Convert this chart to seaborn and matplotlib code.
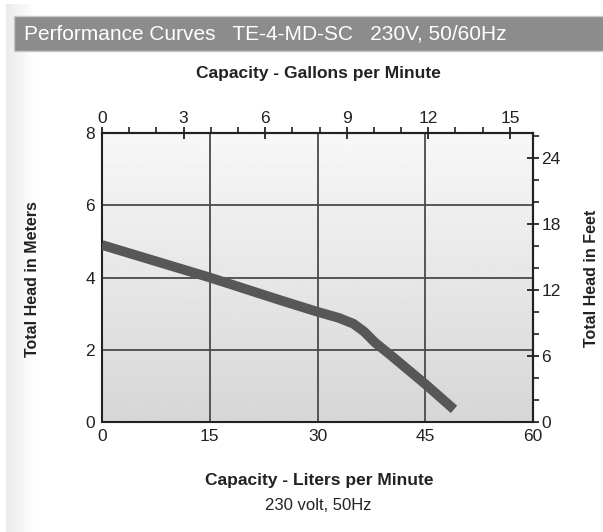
import numpy as np
import pandas as pd
import matplotlib
matplotlib.use("Agg")
import matplotlib.pyplot as plt
from matplotlib.ticker import MultipleLocator
from matplotlib.patches import Rectangle
import seaborn as sns

# curve (liters per minute vs meters of head)
flow_lpm = [0, 5, 10, 15, 20, 25, 30, 33, 35, 36.5, 38, 40, 45, 49]
head_m = [4.9, 4.6, 4.3, 4.0, 3.68, 3.36, 3.05, 2.88, 2.72, 2.5, 2.2, 1.88, 1.05, 0.35]

title_text = "Performance Curves   TE-4-MD-SC   230V, 50/60Hz"
LPM_PER_GPM = 3.78541
FT_PER_M = 3.28084

sns.set_style("white")
plt.rcParams['font.family'] = ['Liberation Sans', 'DejaVu Sans']

df = pd.DataFrame({"lpm": flow_lpm, "m": head_m})

fig = plt.figure(figsize=(6.03, 5.32), dpi=100)

# faint shading on the left page edge
bg = fig.add_axes([6 / 603, 0, 30 / 603, 1 - 4 / 532], zorder=-5)
edge = np.linspace(0.92, 1.0, 64).reshape(1, -1)
bg.imshow(edge, extent=[0, 1, 0, 1], aspect='auto', cmap='gray', vmin=0, vmax=1)
bg.axis('off')

ax = fig.add_axes([102 / 603, 1 - 422 / 532, 431 / 603, 289 / 532])

# soft vertical gradient behind the plot
grad = np.linspace(0.97, 0.84, 256).reshape(-1, 1)
ax.imshow(grad, extent=[0, 60, 0, 8], origin='upper', aspect='auto', cmap='gray',
          vmin=0, vmax=1, zorder=0)

for v in [15, 30, 45]:
    ax.axvline(v, color='#4a4a4a', lw=1.3, zorder=1)
for h in [2, 4, 6]:
    ax.axhline(h, color='#4a4a4a', lw=1.3, zorder=1)

sns.lineplot(data=df, x="lpm", y="m", ax=ax, color='#575757', lw=7,
             solid_capstyle='butt', zorder=3)

ax.set_xlim(0, 60)
ax.set_ylim(0, 8)
ax.set_xlabel("")
ax.set_ylabel("")
ax.xaxis.set_major_locator(MultipleLocator(15))
ax.xaxis.set_minor_locator(MultipleLocator(3))
ax.yaxis.set_major_locator(MultipleLocator(2))
ax.yaxis.set_minor_locator(MultipleLocator(0.5))
ax.tick_params(which='major', length=8, width=1.3, direction='inout',
               labelsize=12.5, color='#222222', labelcolor='#222222', pad=1)
ax.tick_params(which='minor', length=4, width=1.2, direction='out', color='#222222')
for s in ax.spines.values():
    s.set_color('#222222')
    s.set_linewidth(1.5)

top = ax.secondary_xaxis('top', functions=(lambda x: x / LPM_PER_GPM,
                                            lambda x: x * LPM_PER_GPM))
top.xaxis.set_major_locator(MultipleLocator(3))
top.xaxis.set_minor_locator(MultipleLocator(1))
top.tick_params(which='major', length=8, width=1.3, direction='inout',
                labelsize=12.5, color='#222222', labelcolor='#222222', pad=1)
top.tick_params(which='minor', length=4, width=1.2, direction='out', color='#222222')
top.spines['top'].set_linewidth(1.5)

right = ax.secondary_yaxis('right', functions=(lambda y: y * FT_PER_M,
                                                lambda y: y / FT_PER_M))
right.yaxis.set_major_locator(MultipleLocator(6))
right.yaxis.set_minor_locator(MultipleLocator(2))
right.tick_params(which='major', length=8, width=1.3, direction='inout',
                  labelsize=12.5, color='#222222', labelcolor='#222222', pad=2)
right.tick_params(which='minor', length=4, width=1.2, direction='out', color='#222222')
right.spines['right'].set_linewidth(1.5)

# labels
fig.text(318 / 603, 1 - 73 / 532, "Capacity - Gallons per Minute", ha='center',
         va='center', fontsize=12.5, fontweight='bold', color='#222222')
fig.text(319 / 603, 1 - 480 / 532, "Capacity - Liters per Minute", ha='center',
         va='center', fontsize=12.5, fontweight='bold', color='#222222')
fig.text(318 / 603, 1 - 506 / 532, "230 volt, 50Hz", ha='center',
         va='center', fontsize=12, color='#222222')
fig.text(33 / 603, 1 - 279 / 532, "Total Head in Meters", ha='center',
         va='center', rotation=90, fontsize=11.5, fontweight='bold', color='#222222')
fig.text(592 / 603, 1 - 278 / 532, "Total Head in Feet", ha='center',
         va='center', rotation=90, fontsize=11.5, fontweight='bold', color='#222222')

# title banner
fig.patches.append(Rectangle((14 / 603, 1 - 51 / 532), 1, 35 / 532,
                             transform=fig.transFigure, facecolor='#8c8c8c',
                             edgecolor='#c8c8c8', lw=1, zorder=0))
fig.text(24 / 603, 1 - 34 / 532, title_text, ha='left', va='center',
         fontsize=15, color='white',
         family=['Liberation Sans Narrow', 'Liberation Sans', 'DejaVu Sans'])

fig.savefig("out.png", dpi=100)
